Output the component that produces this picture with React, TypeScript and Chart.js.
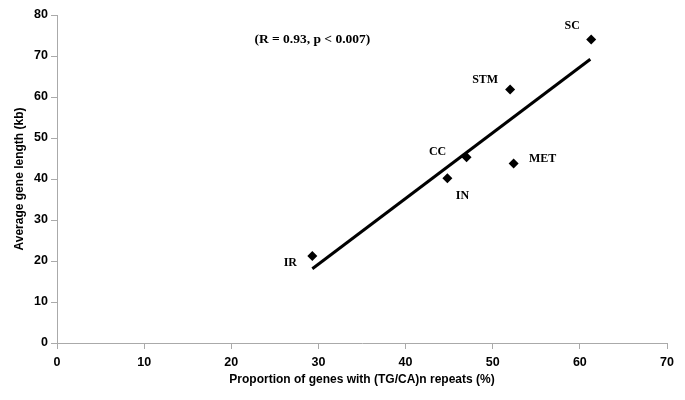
import React, { useEffect, useRef } from "react";
import { Chart, registerables } from "chart.js";

Chart.register(...registerables);

const groups = ["SC", "STM", "CC", "MET", "IN", "IR"];
const proportion = [61.3, 52.0, 47.0, 52.4, 44.8, 29.3];
const geneLength = [74.0, 61.8, 45.3, 43.8, 40.2, 21.2];
const fitX = [29.3, 61.2];
const fitY = [18.1, 69.2];
const xTicks = [0, 10, 20, 30, 40, 50, 60, 70];
const yTicks = [0, 10, 20, 30, 40, 50, 60, 70, 80];
const annotation = "(R = 0.93, p < 0.007)";
const xTitle = "Proportion of genes with (TG/CA)n repeats (%)";
const yTitle = "Average gene length (kb)";

// pixel offsets of each group label relative to its marker (layout only)
const labelOffsets: Record<string, [number, number]> = {
  SC: [-19, -14],
  STM: [-25, -10],
  CC: [-29, -5],
  MET: [29, -5],
  IN: [15, 18],
  IR: [-22, 7],
};

const sans = "'Liberation Sans', Arial, Helvetica, sans-serif";

const labelPlugin = {
  id: "groupLabels",
  afterDatasetsDraw(chart: any) {
    const { ctx, scales } = chart;
    ctx.save();
    ctx.fillStyle = "#000";
    ctx.textAlign = "center";
    ctx.textBaseline = "middle";
    ctx.font = "bold 12px 'Liberation Serif', 'Times New Roman', serif";
    groups.forEach((g, i) => {
      const px = scales.x.getPixelForValue(proportion[i]);
      const py = scales.y.getPixelForValue(geneLength[i]);
      const off = labelOffsets[g];
      ctx.fillText(g, px + off[0], py + off[1]);
    });
    ctx.font = "bold 13.5px 'Liberation Serif', 'Times New Roman', serif";
    const ax = scales.x.getPixelForValue(29.3);
    const ay = scales.y.getPixelForValue(74.0);
    ctx.fillText(annotation, ax, ay);
    ctx.restore();
  },
};

export default function App() {
  const ref = useRef<HTMLCanvasElement | null>(null);
  useEffect(() => {
    document.body.style.margin = "0";
    const canvas = ref.current;
    if (!canvas) return;
    const chart = new Chart(canvas, {
      type: "scatter",
      data: {
        datasets: [
          {
            label: "groups",
            data: proportion.map((x, i) => ({ x, y: geneLength[i] })),
            pointStyle: "rectRot",
            pointRadius: 5,
            backgroundColor: "#000",
            borderColor: "#000",
            borderWidth: 0,
          },
          {
            label: "fit",
            type: "line",
            data: fitX.map((x, i) => ({ x, y: fitY[i] })),
            borderColor: "#000",
            borderWidth: 3,
            pointRadius: 0,
            showLine: true,
            fill: false,
          } as any,
        ],
      },
      plugins: [labelPlugin],
      options: {
        animation: false,
        responsive: false,
        maintainAspectRatio: false,
        layout: { padding: { left: 0, top: 15, right: 18, bottom: 0 } },
        plugins: { legend: { display: false }, tooltip: { enabled: false } },
        scales: {
          x: {
            type: "linear",
            min: 0,
            max: 70,
            afterBuildTicks: (s: any) => {
              s.ticks = xTicks.map((v) => ({ value: v }));
            },
            afterFit: (s: any) => {
              s.height = 57;
            },
            grid: {
              display: true,
              drawOnChartArea: false,
              drawTicks: true,
              tickLength: 6,
              color: "#aaa",
            },
            border: { color: "#aaa", width: 1 },
            ticks: {
              color: "#000",
              font: { family: sans, size: 12.5, weight: "bold" },
              padding: 6,
              maxRotation: 0,
            },
            title: {
              display: true,
              text: xTitle,
              color: "#000",
              font: { family: sans, size: 12, weight: "bold" },
              padding: { top: 2, bottom: 13 },
            },
          },
          y: {
            type: "linear",
            min: 0,
            max: 80,
            afterBuildTicks: (s: any) => {
              s.ticks = yTicks.map((v) => ({ value: v }));
            },
            afterFit: (s: any) => {
              s.width = 57;
            },
            grid: {
              display: true,
              drawOnChartArea: false,
              drawTicks: true,
              tickLength: 6,
              color: "#aaa",
            },
            border: { color: "#aaa", width: 1 },
            ticks: {
              color: "#000",
              font: { family: sans, size: 12.5, weight: "bold" },
              padding: 3,
            },
            title: {
              display: true,
              text: yTitle,
              color: "#000",
              font: { family: sans, size: 12, weight: "bold" },
              padding: { top: 12, bottom: 4 },
            },
          },
        },
      },
    });
    return () => chart.destroy();
  }, []);
  return (
    <div style={{ width: 685, height: 400, background: "#fff" }}>
      <canvas ref={ref} width={685} height={400} />
    </div>
  );
}
